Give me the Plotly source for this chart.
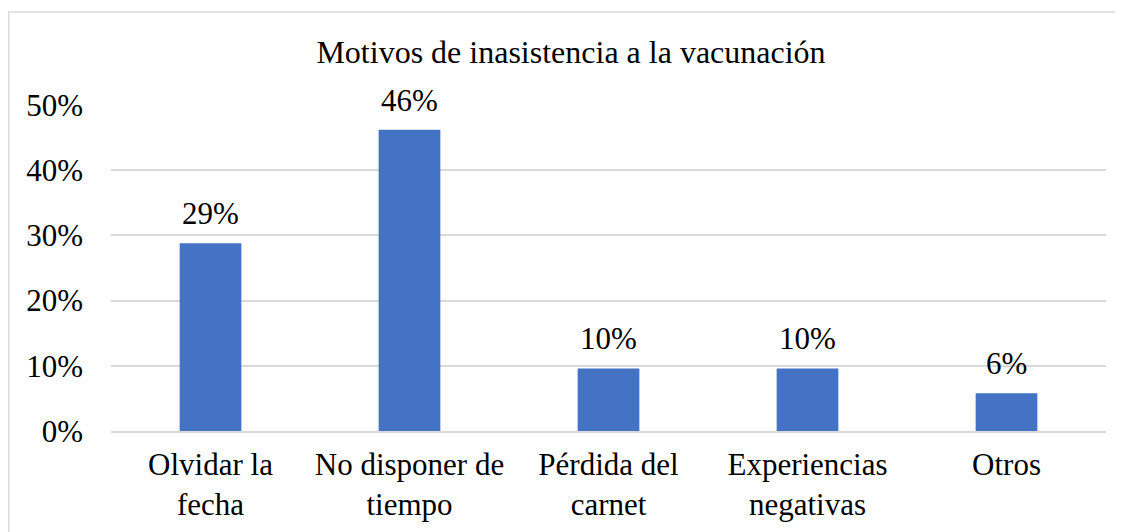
import plotly.graph_objects as go

categories = ["Olvidar la<br>fecha", "No disponer de<br>tiempo", "Pérdida del<br>carnet", "Experiencias<br>negativas", "Otros"]
values = [0.288, 0.462, 0.096, 0.096, 0.058]
labels = ["29%", "46%", "10%", "10%", "6%"]
tick_vals = [0, 0.1, 0.2, 0.3, 0.4, 0.5]
tick_text = ["0%", "10%", "20%", "30%", "40%", "50%"]
title = "Motivos de inasistencia a la vacunación"

FONT = "Liberation Serif, Times New Roman, serif"
OX, OY = 8, 8  # page offset of the figure (body margin)
W, H = 1123 - OX, 532 - OY
L = 111 - OX
R = (1123 - OX) - (1106 - OX)
T = 105 - OY
B = H - (431 - OY)

fig = go.Figure()
fig.add_trace(go.Bar(x=categories, y=values, marker=dict(color="#4472C4", line=dict(width=0)),
                     width=0.31, hoverinfo="skip"))

for c, v, t in zip(categories, values, labels):
    fig.add_annotation(x=c, y=v, text=t, showarrow=False, yanchor="bottom", yshift=10,
                       font=dict(family=FONT, size=31, color="black"))

pw = W - L - R
ph = H - T - B
fig.add_shape(type="rect", xref="paper", yref="paper",
              x0=(0.75 - L) / pw, x1=(W - 1 - L) / pw,
              y0=-(B + 5) / ph, y1=1 + (T - 4) / ph,
              line=dict(color="#D9D9D9", width=1.5), fillcolor="rgba(0,0,0,0)", layer="below")

fig.update_layout(
    width=W, height=H,
    margin=dict(l=L, r=R, t=T, b=B, autoexpand=False),
    paper_bgcolor="white", plot_bgcolor="white",
    showlegend=False,
    title=dict(text=title, x=(571 - OX) / W, xanchor="center", y=1 - (52 - OY) / H, yanchor="middle",
               font=dict(family=FONT, size=32, color="black")),
    font=dict(family=FONT, size=32, color="black"),
    xaxis=dict(showgrid=False, showline=True, linecolor="#D9D9D9", linewidth=1.5,
               ticks="", tickfont=dict(family=FONT, size=31, color="black"), ticklabelstandoff=5),
    yaxis=dict(range=[0, 0.5], tickvals=tick_vals, ticktext=tick_text, showgrid=True,
               gridcolor="#D9D9D9", gridwidth=1.5, zeroline=False, showline=False,
               ticks="", tickfont=dict(family=FONT, size=31, color="black"), ticklabelstandoff=27),
)

fig.write_html("out.html")
